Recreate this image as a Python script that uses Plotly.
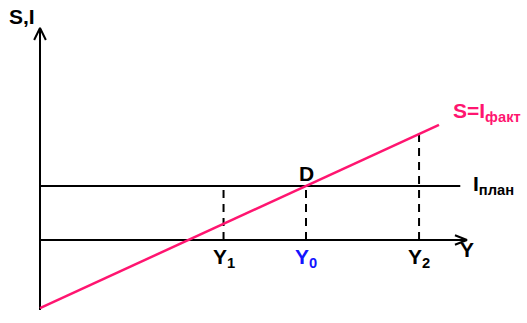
import plotly.graph_objects as go

# Model data (economic units)
Y_axis_max = 160.5
SI_axis_min, SI_axis_max = -26.3, 79.7
I_plan = 20.3
S_intercept, S_slope = -25.6, 0.459
S_Y_range = [0, 150]
Y_levels = {"Y1": 69, "Y0": 100, "Y2": 142.5}
I_plan_end = 158

PINK = "#ff1570"
BLUE = "#1414ff"
FONT = "Liberation Sans, Arial, sans-serif"

def S(y):
    return S_intercept + S_slope * y

fig = go.Figure()

# axes
fig.add_trace(go.Scatter(x=[0, 0], y=[SI_axis_min, SI_axis_max], mode="lines",
                         line=dict(color="black", width=2), hoverinfo="skip"))
fig.add_trace(go.Scatter(x=[0, Y_axis_max], y=[0, 0], mode="lines",
                         line=dict(color="black", width=2), hoverinfo="skip"))
# arrowheads (chevrons)
fig.add_trace(go.Scatter(x=[-2.2, 0, 2.2], y=[SI_axis_max - 4.5, SI_axis_max, SI_axis_max - 4.5],
                         mode="lines", line=dict(color="black", width=2), hoverinfo="skip"))
fig.add_trace(go.Scatter(x=[Y_axis_max - 4.5, Y_axis_max, Y_axis_max - 4.5], y=[1.8, 0, -1.8],
                         mode="lines", line=dict(color="black", width=2), hoverinfo="skip"))
# I plan
fig.add_trace(go.Scatter(x=[0, I_plan_end], y=[I_plan, I_plan], mode="lines",
                         line=dict(color="black", width=2), hoverinfo="skip"))
# dashed verticals
for name, yv in Y_levels.items():
    top = max(I_plan, S(yv)) if name == "Y2" else I_plan
    fig.add_trace(go.Scatter(x=[yv, yv], y=[0, top], mode="lines",
                             line=dict(color="black", width=2, dash="8px,6px"), hoverinfo="skip"))
# S line
fig.add_trace(go.Scatter(x=S_Y_range, y=[S(v) for v in S_Y_range], mode="lines",
                         line=dict(color=PINK, width=2.5), hoverinfo="skip"))

ann = []
def txt(x, y, t, color="black", size=21, xanchor="center", yanchor="middle"):
    ann.append(dict(x=x, y=y, text=t, showarrow=False, xanchor=xanchor, yanchor=yanchor,
                    font=dict(family=FONT, size=size, color=color)))

txt(-6.8, SI_axis_max + 4.5, "<b>S,I</b>")
txt(Y_levels["Y0"], I_plan + 4.8, "<b>D</b>")
txt(Y_levels["Y1"], -6.8, "<b>Y<sub>1</sub></b>")
txt(Y_levels["Y0"], -6.8, "<b>Y<sub>0</sub></b>", color=BLUE)
txt(Y_levels["Y2"], -6.8, "<b>Y<sub>2</sub></b>")
txt(Y_axis_max - 3.2, -3.4, "<b>Y</b>", xanchor="left")
txt(162, I_plan + 0.3, "<b>I<sub>план</sub></b>", xanchor="left")
txt(154.5, S(150) + 4.8, "<b>S=I<sub>факт</sub></b>", color=PINK, xanchor="left")

px = 2.66
fig.update_layout(
    width=527, height=323, margin=dict(l=0, r=0, t=0, b=0),
    paper_bgcolor="white", plot_bgcolor="white", showlegend=False,
    annotations=ann,
    xaxis=dict(range=[-40 / px, 487 / px], visible=False, fixedrange=True),
    yaxis=dict(range=[-83 / px, 240 / px], visible=False, fixedrange=True),
)
fig.write_html("out.html")
